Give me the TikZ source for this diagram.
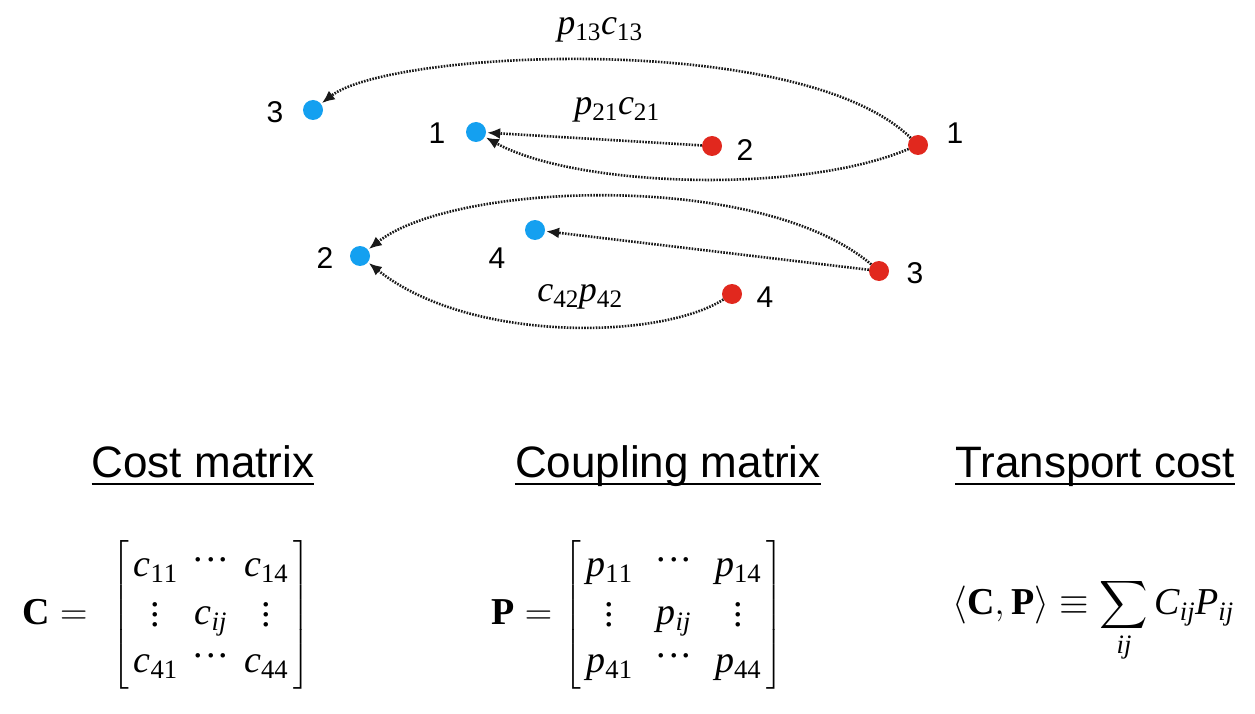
\RequirePackage{fix-cm}
\documentclass[tikz,border=0pt]{standalone}
\usepackage{amsmath}
\usepackage{graphicx}
\usepackage{fontspec}
\setmainfont{Liberation Sans}
\setmathrm{Liberation Serif}
\newfontfamily\tms{Liberation Serif}
\usetikzlibrary{arrows.meta}
\definecolor{bluedot}{RGB}{20,160,240}
\definecolor{reddot}{RGB}{225,40,30}
\newcommand\sv[2]{\mathit{#1}_{\mathrm{#2}}}
\newcommand\si[2]{\mathit{#1}_{\mathit{#2}}}
\newcommand\myvd{\vcenter{\hbox{\tms\vbox{\baselineskip=10pt\lineskiplimit=0pt\hbox{.}\hbox{.}\hbox{.}}}}}
\newcommand\myhd{\raisebox{0.4em}{\tms.\kern3pt.\kern3pt.}}
\newcommand\bigsum{\mathop{\vcenter{\hbox{\scalebox{1.35}{$\displaystyle\sum$}}}}\limits}
\newcommand\mymat[1]{\left[\kern5pt\begin{matrix}#1\end{matrix}\kern5pt\right]}
\tikzset{
  bdot/.style={circle,fill=bluedot,inner sep=0pt,minimum size=20pt},
  rdot/.style={circle,fill=reddot,inner sep=0pt,minimum size=20pt},
  num/.style={font=\fontsize{30}{34}\selectfont,inner sep=0pt},
  elabel/.style={font=\fontsize{36}{40}\selectfont,inner sep=0pt},
  conn/.style={draw=black!90,line width=2.6pt,dash pattern=on 1.6pt off 1.3pt,
    -{Latex[length=13pt,width=11pt]},shorten >=1pt},
  heading/.style={font=\fontsize{44}{48}\selectfont,inner sep=0pt,anchor=base},
  uline/.style={line width=2.4pt},
  mathbox/.style={font=\fontsize{38}{46}\selectfont,inner sep=0pt}
}
\begin{document}
\begin{tikzpicture}[x=1pt,y=-1pt]
\useasboundingbox (0,0) rectangle (1255,714);
% dots
\node[bdot] (b3) at (313,110) {};
\node[bdot] (b1) at (476,132) {};
\node[bdot] (b2) at (360,256) {};
\node[bdot] (b4) at (535,230) {};
\node[rdot] (r1) at (918,145) {};
\node[rdot] (r2) at (712,146) {};
\node[rdot] (r3) at (879,271) {};
\node[rdot] (r4) at (732,294) {};
% numbers
\node[num] (lb3) at (275,112) {3};
\node[num] (lb1) at (437,133) {1};
\node[num] (lb2) at (325,258) {2};
\node[num] (lb4) at (497,258) {4};
\node[num] (lr1) at (955,133) {1};
\node[num] (lr2) at (745,150) {2};
\node[num] (lr3) at (915,273) {3};
\node[num] (lr4) at (765,297) {4};
% edge labels
\node[elabel] (e13) at (600,30) {$\sv{p}{13}\sv{c}{13}$};
\node[elabel] (e21) at (617,110) {$\sv{p}{21}\sv{c}{21}$};
\node[elabel] (e42) at (580,297) {$\sv{c}{42}\sv{p}{42}$};
% connectors
\draw[conn] (r1) .. controls (800,30) and (390,50) .. (b3);
\draw[conn] (r2) -- (b1);
\draw[conn] (r1) .. controls (800,195) and (575,187) .. (b1);
\draw[conn] (r3) .. controls (760,170) and (454,182) .. (b2);
\draw[conn] (r3) -- (b4);
\draw[conn] (r4) .. controls (660,340) and (469,343) .. (b2);
% headings
\node[heading] (h1) at (203,477) {Cost matrix};
\node[heading] (h2) at (668,477) {Coupling matrix};
\node[heading] (h3) at (1095,477) {Transport cost};
\draw[uline] (h1.west |- 0,484) coordinate (u1a) -- (h1.east |- 0,484) coordinate (u1b);
\draw[uline] (h2.west |- 0,484) coordinate (u2a) -- (h2.east |- 0,484) coordinate (u2b);
\draw[uline] (h3.west |- 0,484) coordinate (u3a) -- (h3.east |- 0,484) coordinate (u3b);
% formulas
\node[mathbox] (mC) at (166,615) {\setlength{\arraycolsep}{8pt}\renewcommand{\arraystretch}{1.05}$\mathbf{C}=\hspace{14pt}\mymat{\sv{c}{11} & \myhd & \sv{c}{14}\\ \myvd & \si{c}{ij} & \myvd\\ \sv{c}{41} & \myhd & \sv{c}{44}}$};
\node[mathbox] (mP) at (637,615) {\setlength{\arraycolsep}{12pt}\renewcommand{\arraystretch}{1.05}$\mathbf{P}=\hspace{2pt}\mymat{\sv{p}{11} & \myhd & \sv{p}{14}\\ \myvd & \si{p}{ij} & \myvd\\ \sv{p}{41} & \myhd & \sv{p}{44}}$};
\node[mathbox] (mT) at (1093,620) {$\displaystyle \langle\mathbf{C},\mathbf{P}\rangle \equiv \bigsum_{\mathit{ij}} \si{C}{ij}\si{P}{ij}$};
\end{tikzpicture}
\end{document}
